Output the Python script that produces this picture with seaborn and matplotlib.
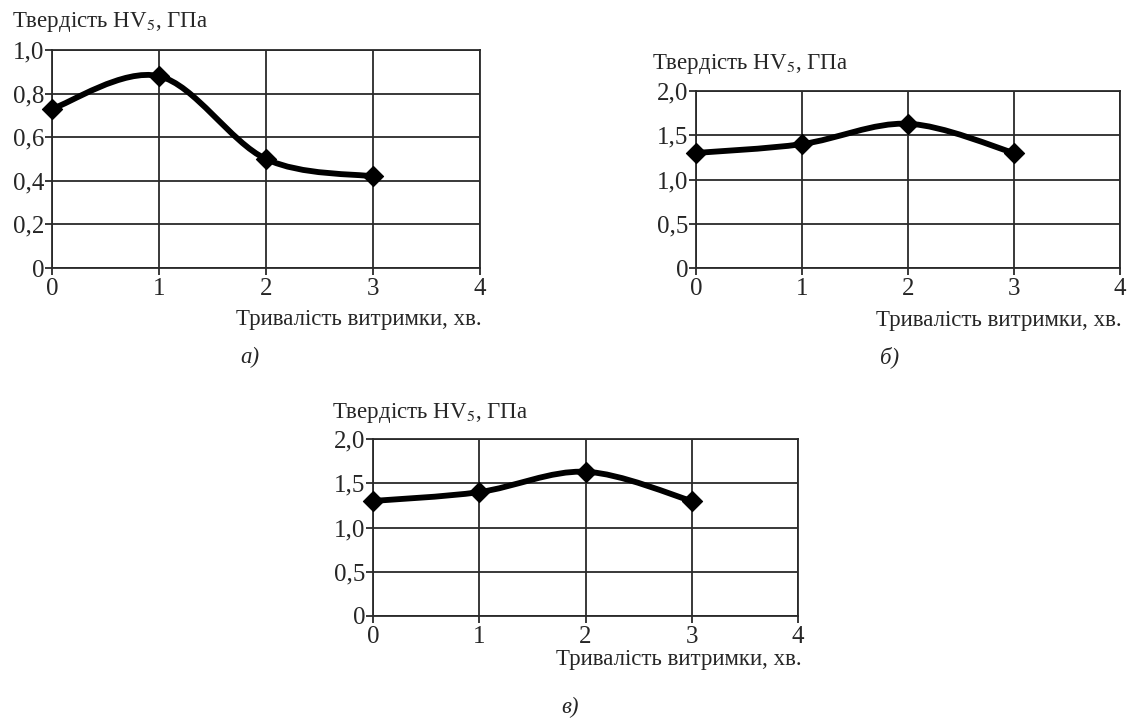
import matplotlib
matplotlib.use("Agg")
import matplotlib.pyplot as plt
import seaborn as sns
import numpy as np
import pandas as pd
from matplotlib.path import Path
from matplotlib.patches import PathPatch

# data
time_min = [0, 1, 2, 3]
hardness_a = [0.73, 0.88, 0.50, 0.42]
hardness_b = [1.30, 1.40, 1.63, 1.30]
hardness_c = [1.30, 1.40, 1.63, 1.30]

y_ticks_a = [0, 0.2, 0.4, 0.6, 0.8, 1.0]
y_labels_a = ["0", "0,2", "0,4", "0,6", "0,8", "1,0"]
y_ticks_bc = [0, 0.5, 1.0, 1.5, 2.0]
y_labels_bc = ["0", "0,5", "1,0", "1,5", "2,0"]
x_ticks = [0, 1, 2, 3, 4]

y_title = "Твердість HV$_5$, ГПа"
x_title = "Тривалість витримки, хв."
panel_tags = ["а)", "б)", "в)"]

sns.set_style("white")
plt.rcParams["font.family"] = ["Liberation Serif", "DejaVu Serif"]
plt.rcParams["mathtext.fontset"] = "stix"

W, H = 1128, 724
FS = 16.5
TICK_FS = 18


def smooth_path(x, y):
    """Excel-like smoothed line: cubic Bezier through the points (Catmull-Rom)."""
    pts = np.column_stack([x, y]).astype(float)
    verts = [pts[0]]
    codes = [Path.MOVETO]
    n = len(pts)
    for i in range(n - 1):
        p0 = pts[i - 1] if i > 0 else pts[i]
        p1 = pts[i]
        p2 = pts[i + 1]
        p3 = pts[i + 2] if i + 2 < n else pts[i + 1]
        c1 = p1 + (p2 - p0) / 6.0
        c2 = p2 - (p3 - p1) / 6.0
        verts += [c1, c2, p2]
        codes += [Path.CURVE4] * 3
    return Path(verts, codes)


def px(x, y):
    return x / W, 1 - y / H


def draw_panel(fig, rect, values, yticks, ylabels):
    ax = fig.add_axes(rect)
    df = pd.DataFrame({"t": time_min, "hv": values})
    patch = PathPatch(smooth_path(df["t"], df["hv"]), facecolor="none",
                      edgecolor="black", lw=4.2, transform=ax.transData,
                      zorder=3, capstyle="round", joinstyle="round")
    ax.add_patch(patch)
    sns.scatterplot(data=df, x="t", y="hv", marker="D", s=105, color="black",
                    edgecolor="black", ax=ax, zorder=4, legend=False)
    ax.set_xlim(0, 4)
    ax.set_ylim(yticks[0], yticks[-1])
    ax.set_xticks(x_ticks)
    ax.set_xticklabels([str(v) for v in x_ticks])
    ax.set_yticks(yticks)
    ax.set_yticklabels(ylabels)
    ax.grid(True, color="#2a2a2a", lw=1.3)
    ax.set_axisbelow(True)
    for s in ax.spines.values():
        s.set_color("#2a2a2a")
        s.set_linewidth(1.3)
    ax.tick_params(axis="both", direction="out", length=5, width=1.3,
                   color="#2a2a2a", labelsize=TICK_FS, left=True, bottom=True)
    ax.tick_params(axis="x", pad=2.5)
    ax.tick_params(axis="y", pad=0.5)
    ax.set_xlabel("")
    ax.set_ylabel("")
    for c in ax.collections:
        c.set_clip_on(False)
    return ax


fig = plt.figure(figsize=(W / 100, H / 100), dpi=100)

# panel а
draw_panel(fig, [52 / W, 1 - 268 / H, 428 / W, 218 / H], hardness_a, y_ticks_a, y_labels_a)
fig.text(*px(12, 27), y_title, fontsize=FS, ha="left", va="baseline")
fig.text(*px(482, 325), x_title, fontsize=FS, ha="right", va="baseline")
fig.text(*px(250, 363), panel_tags[0], fontsize=FS, style="italic", ha="center", va="baseline")

# panel б
draw_panel(fig, [696 / W, 1 - 268 / H, 424 / W, 177 / H], hardness_b, y_ticks_bc, y_labels_bc)
fig.text(*px(652, 69), y_title, fontsize=FS, ha="left", va="baseline")
fig.text(*px(1122, 326), x_title, fontsize=FS, ha="right", va="baseline")
fig.text(*px(890, 363), panel_tags[1], fontsize=FS, style="italic", ha="center", va="baseline")

# panel в
draw_panel(fig, [373 / W, 1 - 616 / H, 425 / W, 177 / H], hardness_c, y_ticks_bc, y_labels_bc)
fig.text(*px(332, 418), y_title, fontsize=FS, ha="left", va="baseline")
fig.text(*px(802, 665), x_title, fontsize=FS, ha="right", va="baseline")
fig.text(*px(570, 713), panel_tags[2], fontsize=FS, style="italic", ha="center", va="baseline")

fig.savefig("out.png", dpi=100, facecolor="white")
